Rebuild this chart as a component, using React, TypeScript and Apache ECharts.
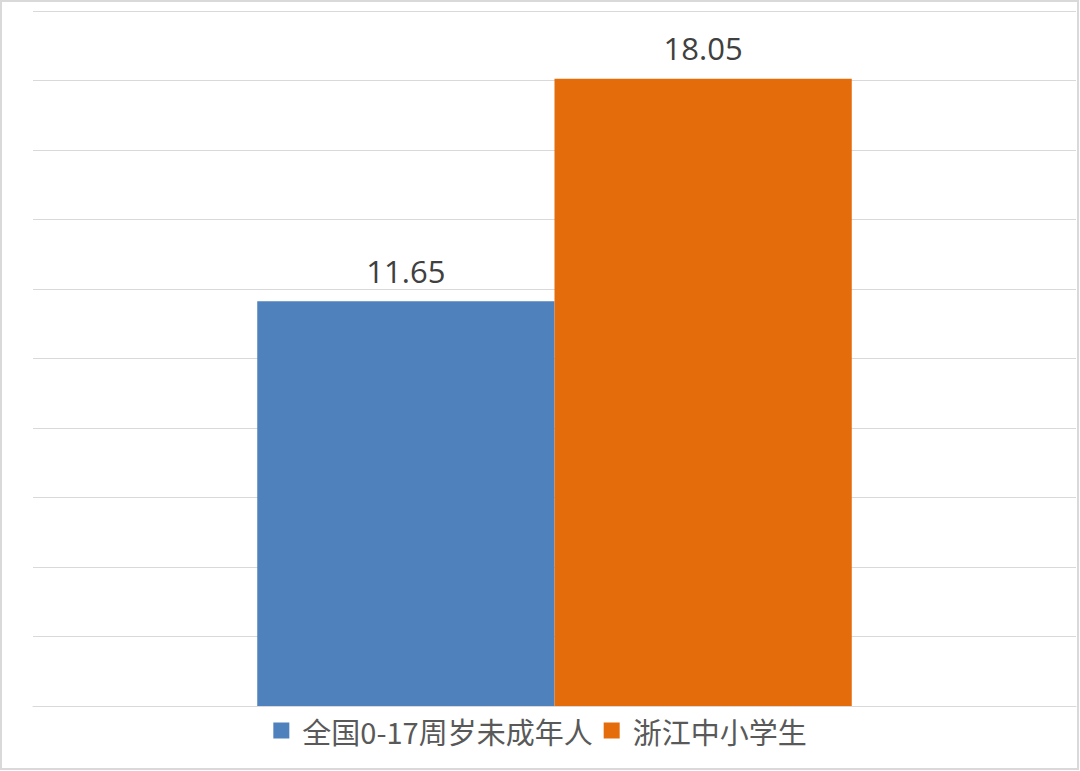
import * as echarts from 'echarts';
import { useEffect, useRef } from 'react';

const categories = [''];
const seriesNames = ['全国0-17周岁未成年人', '浙江中小学生'];
const seriesValues = [[11.65], [18.05]];
const seriesColors = ['#4F81BD', '#E46C0A'];

const App = () => {
  const chartRef = useRef(null);

  useEffect(() => {
    document.body.style.margin = '0';
    const chart = echarts.init(chartRef.current, null, { renderer: 'svg' });

    const option = {
      animation: false,
      backgroundColor: '#ffffff',
      graphic: [
        {
          type: 'rect',
          shape: { x: 1, y: 1, width: 1077, height: 768 },
          style: { fill: 'none', stroke: '#d9d9d9', lineWidth: 2 },
          silent: true,
        },
      ],
      grid: { left: 33, right: 4, top: 11, bottom: 65 },
      legend: {
        bottom: 21,
        left: 'center',
        itemWidth: 16,
        itemHeight: 16,
        itemGap: 11,
        icon: 'rect',
        textStyle: {
          fontSize: 29,
          color: '#595959',
          fontFamily: 'Noto Sans CJK SC',
          padding: [0, 0, 0, 8],
        },
        data: seriesNames,
      },
      xAxis: {
        type: 'category',
        data: categories,
        axisLine: { show: true, lineStyle: { color: '#d9d9d9', width: 1 } },
        axisTick: { show: false },
        axisLabel: { show: false },
      },
      yAxis: {
        type: 'value',
        min: 0,
        max: 20,
        interval: 2,
        axisLine: { show: false },
        axisTick: { show: false },
        axisLabel: { show: false },
        splitLine: { show: true, lineStyle: { color: '#d9d9d9', width: 1 } },
      },
      series: seriesNames.map((name, i) => ({
        name,
        type: 'bar',
        data: seriesValues[i],
        barGap: '0%',
        barCategoryGap: '43%',
        itemStyle: { color: seriesColors[i] },
        label: {
          show: true,
          position: 'top',
          distance: 15,
          fontSize: 31,
          color: '#404040',
          fontFamily: 'Open Sans',
          formatter: (p: any) => p.value.toFixed(2),
        },
      })),
    };

    chart.setOption(option);

    return () => {
      chart.dispose();
    };
  }, []);

  return <div ref={chartRef} style={{ width: '1080px', height: '771px' }} />;
};

export default App;
